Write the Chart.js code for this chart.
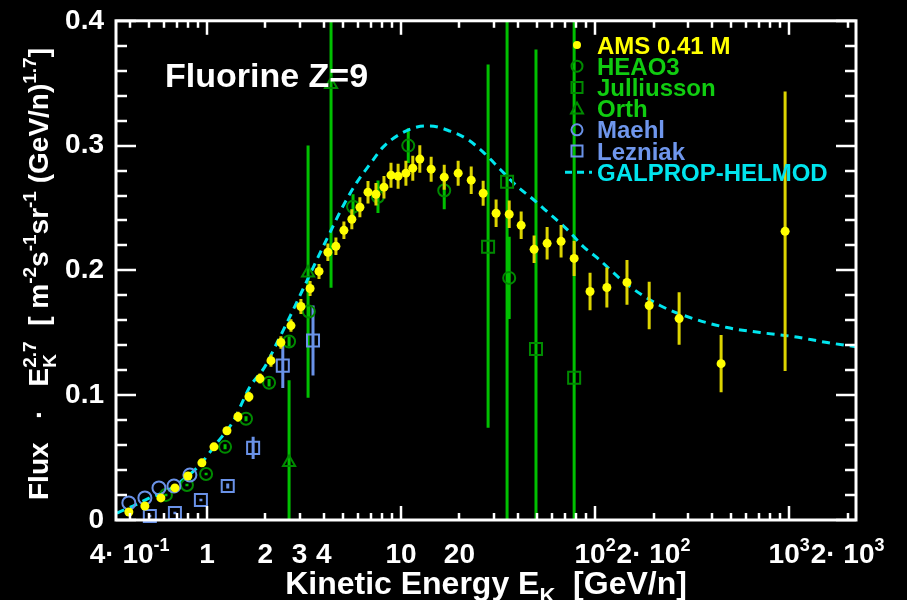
<!DOCTYPE html>
<html>
<head>
<meta charset="utf-8">
<script src="https://cdn.jsdelivr.net/npm/chart.js@4.4.1/dist/chart.umd.min.js"></script>
<style>
  html, body { margin: 0; padding: 0; background: #000; }
</style>
</head>
<body>
<canvas id="flux-chart" width="907" height="600"></canvas>
<script>
// DATA
const amsEnergy = [0.396, 0.479, 0.579, 0.684, 0.798, 0.942, 1.087, 1.268, 1.445, 1.646, 1.876, 2.138, 2.405, 2.71, 3.05, 3.40, 3.78, 4.20, 4.62, 5.08, 5.58, 6.14, 6.76, 7.43, 8.17, 8.88, 9.66, 10.6, 11.5, 12.5, 14.3, 16.7, 19.7, 23.0, 26.5, 30.9, 36.1, 41.6, 48.5, 56.6, 66.8, 78.0, 94.2, 115, 146, 190, 271, 446, 953];
const amsFlux = [0.0064, 0.0112, 0.0177, 0.0257, 0.0353, 0.0458, 0.0586, 0.0715, 0.0827, 0.0988, 0.1133, 0.1277, 0.1422, 0.1558, 0.1711, 0.1855, 0.1992, 0.2145, 0.2193, 0.2321, 0.2410, 0.2506, 0.2627, 0.2610, 0.2667, 0.2763, 0.2755, 0.2779, 0.2819, 0.2892, 0.2811, 0.2747, 0.2779, 0.2723, 0.2618, 0.2458, 0.2450, 0.2361, 0.2169, 0.2217, 0.2233, 0.2096, 0.1831, 0.1863, 0.1904, 0.1719, 0.1614, 0.1253, 0.2313];
const amsErr = [0.002, 0.002, 0.002, 0.002, 0.003, 0.003, 0.003, 0.003, 0.004, 0.004, 0.004, 0.005, 0.005, 0.005, 0.006, 0.006, 0.006, 0.007, 0.007, 0.007, 0.008, 0.008, 0.009, 0.009, 0.009, 0.010, 0.010, 0.010, 0.010, 0.011, 0.010, 0.010, 0.010, 0.011, 0.010, 0.011, 0.011, 0.011, 0.011, 0.013, 0.013, 0.014, 0.015, 0.016, 0.018, 0.019, 0.021, 0.023, 0.112];

const heaoEnergy = [0.615, 0.789, 0.99, 1.24, 1.59, 2.09, 2.65, 3.35, 5.66, 7.61, 10.9, 16.7, 36.1];
const heaoFlux = [0.0201, 0.0281, 0.0369, 0.0586, 0.0811, 0.110, 0.143, 0.167, 0.251, 0.259, 0.300, 0.264, 0.194];
const heaoErr = [0.001, 0.001, 0.001, 0.002, 0.002, 0.003, 0.004, 0.005, 0.010, 0.013, 0.014, 0.015, 0.033];

const julEnergy = [28.1, 35.2, 49.6, 78.0];
const julFlux = [0.219, 0.271, 0.137, 0.114];
const julLow = [0.074, 0, 0, 0];
const julHigh = [0.365, 0.45, 0.377, 0.45];

const orthEnergy = [2.65, 3.32, 4.36];
const orthFlux = [0.046, 0.198, 0.349];
const orthLow = [0, 0.098, 0.186];
const orthHigh = [0.112, 0.300, 0.45];

const maehlEnergy = [0.396, 0.479, 0.566, 0.676, 0.817];
const maehlFlux = [0.0137, 0.0177, 0.0257, 0.0273, 0.0361];

const lezEnergy = [0.508, 0.684, 0.931, 1.28, 1.73, 2.46, 3.52];
const lezFlux = [0.0032, 0.0056, 0.016, 0.0273, 0.0578, 0.1237, 0.1438];
const lezErr = [0.001, 0.001, 0.001, 0.002, 0.009, 0.018, 0.028];

const modelEnergy = [0.344, 0.416, 0.508, 0.622, 0.752, 0.920, 1.126, 1.361, 1.666, 1.99, 2.30, 2.68, 3.12, 3.69, 4.31, 5.02, 5.93, 6.92, 8.08, 9.88, 12.1, 14.1, 17.9, 21.9, 26.5, 32.4, 39.6, 47.9, 58.6, 71.7, 86.7, 102, 146, 216, 320, 479, 709, 1050, 1570, 2210];
const modelFlux = [0.0056, 0.0112, 0.0177, 0.0233, 0.0321, 0.0442, 0.0618, 0.0787, 0.1068, 0.1229, 0.1422, 0.1631, 0.1847, 0.2088, 0.2305, 0.2514, 0.2707, 0.2851, 0.2988, 0.3092, 0.3149, 0.3157, 0.3116, 0.3052, 0.2948, 0.2811, 0.2675, 0.2570, 0.2450, 0.2329, 0.2193, 0.2104, 0.1888, 0.1719, 0.1614, 0.1542, 0.1502, 0.1470, 0.1422, 0.1388];

const legendLabels = ['AMS 0.41 M', 'HEAO3', 'Julliusson', 'Orth', 'Maehl', 'Lezniak', 'GALPROP-HELMOD'];
const xTickValues = [0.4, 1, 2, 3, 4, 10, 20, 100, 200, 1000, 2000];
const xTickLabels = ['4\u00b7 10^-1', '1', '2', '3', '4', '10', '20', '10^2', '2\u00b7 10^2', '10^3', '2\u00b7 10^3'];
const yTickValues = [0, 0.1, 0.2, 0.3, 0.4];

const FONT = "'Liberation Sans', Arial, sans-serif";
Chart.defaults.font.family = FONT;

const YELLOW = '#ffff00', YELLOW_BAR = '#ddd400';
const GREEN = '#00c000', GREEN_MARK = '#008a00', GREEN_TEXT = '#10cc10';
const BLUE = '#6a92e8', BLUE_TEXT = '#6f96ec';
const CYAN = '#00e5ee';

function points(xs, ys) {
  return xs.map(function(x, i) { return {x: x, y: ys[i]}; });
}
// vertical segments separated by gaps
function bars(xs, lo, hi) {
  var out = [];
  xs.forEach(function(x, i) {
    out.push({x: x, y: lo[i]}, {x: x, y: hi[i]}, {x: x, y: null});
  });
  return out;
}
function symBars(xs, ys, err) {
  return bars(xs, ys.map(function(v, i) { return v - err[i]; }), ys.map(function(v, i) { return v + err[i]; }));
}

function errSet(data, color, order) {
  return { label: '', data: data, borderColor: color, borderWidth: 3, pointRadius: 0,
           spanGaps: false, showLine: true, order: order, clip: 0 };
}
function markSet(label, data, style, radius, fill, stroke, order) {
  return { label: label, data: data, showLine: false, pointStyle: style, pointRadius: radius,
           pointBackgroundColor: fill, pointBorderColor: stroke, pointBorderWidth: 2,
           order: order, clip: false };
}

function fontStr(size) { return 'bold ' + size + 'px ' + FONT; }

// draw text with sub/superscripts; part.hold = next part shares x
function drawRich(ctx, parts, x0, base, big, small, measureOnly) {
  var x = x0, held = null;
  parts.forEach(function(p) {
    ctx.font = fontStr(p.s === 'n' ? big : small);
    var w = ctx.measureText(p.t).width;
    var dy = p.s === 'sup' ? -big * 0.42 : (p.s === 'sub' ? big * 0.28 : 0);
    if (!measureOnly) ctx.fillText(p.t, x, base + dy);
    if (p.hold) { held = w; return; }
    if (held !== null) { w = Math.max(w, held); held = null; }
    x += w;
  });
  return x - x0;
}

const frame = {
  id: 'frame',
  beforeDraw(chart) {
    const ctx = chart.ctx;
    ctx.save();
    ctx.fillStyle = '#000';
    ctx.fillRect(0, 0, chart.width, chart.height);
    ctx.restore();
  },
  afterDraw(chart) {
    const ctx = chart.ctx, a = chart.chartArea, x = chart.scales.x, y = chart.scales.y;
    ctx.save();
    ctx.strokeStyle = '#fff';
    ctx.fillStyle = '#fff';
    ctx.lineWidth = 2.5;
    function seg(x1, y1, x2, y2) { ctx.beginPath(); ctx.moveTo(x1, y1); ctx.lineTo(x2, y2); ctx.stroke(); }

    // y ticks (both sides)
    for (var k = 0; k <= 20; k++) {
      var py = Math.round(y.getPixelForValue(k * 0.02));
      var len = (k % 5 === 0) ? 20 : 11;
      seg(a.left, py, a.left + len, py);
      seg(a.right, py, a.right - len, py);
    }
    // x ticks (bottom and top)
    for (var e = -1; e <= 3; e++) {
      for (var m = 1; m < 10; m++) {
        var v = m * Math.pow(10, e);
        if (v < x.min || v > x.max) continue;
        var px = Math.round(x.getPixelForValue(v));
        var l = (m === 1) ? 14 : 7;
        seg(px, a.bottom, px, a.bottom - l);
        seg(px, a.top, px, a.top + l);
      }
    }
    ctx.lineWidth = 3;
    ctx.strokeRect(a.left, a.top, a.width, a.height);

    // x tick labels
    ctx.textAlign = 'left';
    ctx.textBaseline = 'alphabetic';
    xTickValues.forEach(function(v, i) {
      var t = xTickLabels[i].split('^');
      var parts = [{t: t[0], s: 'n'}];
      if (t[1]) parts.push({t: t[1], s: 'sup'});
      var w = drawRich(ctx, parts, 0, 0, 28, 18, true);
      drawRich(ctx, parts, x.getPixelForValue(v) - w / 2, 563, 28, 18);
    });

    // x title
    var xt = [{t: 'Kinetic Energy E', s: 'n'}, {t: 'K', s: 'sub'}, {t: '  [GeV/n]', s: 'n'}];
    var xw = drawRich(ctx, xt, 0, 0, 32, 22, true);
    drawRich(ctx, xt, 486 - xw / 2, 594, 32, 22);

    // y title
    var yt = [{t: 'Flux   \u00b7   E', s: 'n'}, {t: 'K', s: 'sub', hold: true}, {t: '2.7', s: 'sup'},
              {t: '  [ m', s: 'n'}, {t: '-2', s: 'sup'}, {t: 's', s: 'n'}, {t: '-1', s: 'sup'},
              {t: 'sr', s: 'n'}, {t: '-1', s: 'sup'}, {t: ' (GeV/n)', s: 'n'}, {t: '1.7', s: 'sup'}, {t: ']', s: 'n'}];
    var yw = drawRich(ctx, yt, 0, 0, 28, 19, true);
    ctx.save();
    ctx.translate(48, 274);
    ctx.rotate(-Math.PI / 2);
    drawRich(ctx, yt, -yw / 2, 0, 28, 19);
    ctx.restore();

    // panel label
    ctx.font = fontStr(34);
    ctx.fillText('Fluorine Z=9', 165, 87);

    // legend
    var rows = [
      {c: YELLOW, t: YELLOW, m: 'dot'}, {c: GREEN_MARK, t: GREEN_TEXT, m: 'circle'},
      {c: GREEN_MARK, t: GREEN_TEXT, m: 'square'}, {c: GREEN_MARK, t: GREEN_TEXT, m: 'tri'},
      {c: BLUE, t: BLUE_TEXT, m: 'circle'}, {c: BLUE, t: BLUE_TEXT, m: 'square'},
      {c: CYAN, t: CYAN, m: 'dash'}
    ];
    ctx.font = fontStr(24);
    rows.forEach(function(r, i) {
      var cy = 45 + i * 21.2, cx = 577;
      ctx.strokeStyle = r.c; ctx.fillStyle = r.c; ctx.lineWidth = 2;
      ctx.beginPath();
      if (r.m === 'dot') { ctx.arc(cx, cy, 4, 0, Math.PI * 2); ctx.fill(); }
      else if (r.m === 'circle') { ctx.arc(cx, cy, 5.5, 0, Math.PI * 2); ctx.stroke(); }
      else if (r.m === 'square') { ctx.rect(cx - 5.5, cy - 5.5, 11, 11); ctx.stroke(); }
      else if (r.m === 'tri') { ctx.moveTo(cx - 6, cy + 5); ctx.lineTo(cx + 6, cy + 5); ctx.lineTo(cx, cy - 6); ctx.closePath(); ctx.stroke(); }
      else { ctx.lineWidth = 3; ctx.setLineDash([7, 5]); ctx.moveTo(565, cy); ctx.lineTo(592, cy); ctx.stroke(); ctx.setLineDash([]); }
      ctx.fillStyle = r.t;
      ctx.fillText(legendLabels[i], 597, cy + 8.5);
    });
    ctx.restore();
  }
};

var ctx = document.getElementById('flux-chart');
var chart = new Chart(ctx, {
  type: 'line',
  data: {
    datasets: [
      errSet(bars(julEnergy, julLow, julHigh), GREEN, 10),
      errSet(bars(orthEnergy, orthLow, orthHigh), GREEN, 10),
      errSet(symBars(heaoEnergy, heaoFlux, heaoErr), GREEN, 10),
      errSet(symBars(lezEnergy, lezFlux, lezErr), BLUE, 9),
      { label: legendLabels[6], data: points(modelEnergy, modelFlux), borderColor: CYAN, borderWidth: 3,
        borderDash: [8, 6], pointRadius: 0, tension: 0.35, cubicInterpolationMode: 'monotone', order: 6, clip: 0 },
      markSet(legendLabels[1], points(heaoEnergy, heaoFlux), 'circle', 6, 'rgba(0,0,0,0)', GREEN_MARK, 5),
      markSet(legendLabels[2], points(julEnergy, julFlux), 'rect', 8.5, 'rgba(0,0,0,0)', GREEN_MARK, 5),
      markSet(legendLabels[3], points(orthEnergy, orthFlux), 'triangle', 7, 'rgba(0,0,0,0)', GREEN_MARK, 5),
      markSet(legendLabels[4], points(maehlEnergy, maehlFlux), 'circle', 6.5, 'rgba(0,0,0,0)', BLUE, 4),
      markSet(legendLabels[5], points(lezEnergy, lezFlux), 'rect', 8.5, 'rgba(0,0,0,0)', BLUE, 4),
      errSet(symBars(amsEnergy, amsFlux, amsErr), YELLOW_BAR, 2),
      { label: legendLabels[0], data: points(amsEnergy, amsFlux), showLine: false, pointStyle: 'circle',
        pointRadius: 4.5, pointBackgroundColor: YELLOW, pointBorderColor: YELLOW, pointBorderWidth: 0, order: 1, clip: false }
    ]
  },
  options: {
    responsive: false,
    animation: false,
    layout: { padding: { top: 20, right: 51, left: 0, bottom: 0 } },
    plugins: { legend: { display: false }, tooltip: { enabled: false } },
    scales: {
      x: {
        type: 'logarithmic', min: 0.34, max: 2210, bounds: 'data',
        grid: { display: false }, border: { display: false },
        ticks: { display: false },
        afterBuildTicks: function(s) { s.ticks = xTickValues.map(function(v) { return {value: v}; }); },
        afterFit: function(s) { s.height = 80; }
      },
      y: {
        min: 0, max: 0.4,
        grid: { display: false }, border: { display: false },
        afterBuildTicks: function(s) { s.ticks = yTickValues.map(function(v) { return {value: v}; }); },
        ticks: {
          color: '#fff', padding: 4, font: { size: 28, weight: 'bold' },
          callback: function(v) { return v === 0 ? '0' : v.toFixed(1); }
        },
        afterFit: function(s) { s.width = 116; }
      }
    }
  },
  plugins: [frame]
});
</script>
</body>
</html>
